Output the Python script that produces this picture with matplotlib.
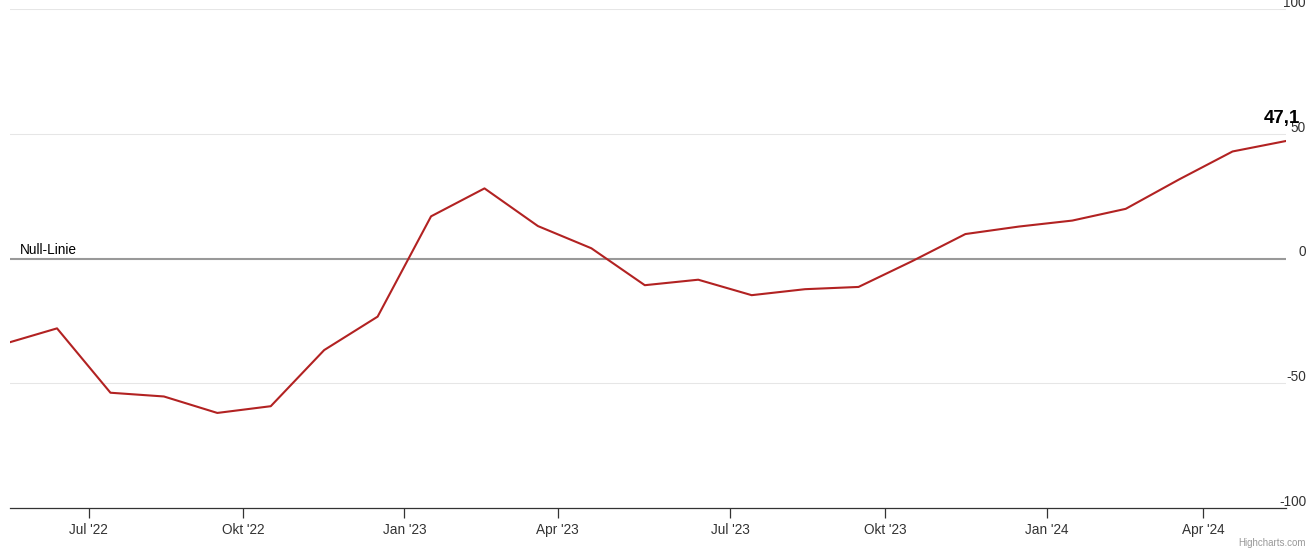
import datetime as dt
import numpy as np
import matplotlib
matplotlib.use("Agg")
import matplotlib.pyplot as plt
import matplotlib.dates as mdates
import matplotlib.transforms as mtransforms

plt.rcParams['font.family'] = ['Liberation Sans', 'DejaVu Sans']

# monthly survey values, May 2022 .. May 2024 (ordinal axis: points equally spaced)
dates = [dt.date(2022, 5, 17), dt.date(2022, 6, 12), dt.date(2022, 7, 14), dt.date(2022, 8, 17),
         dt.date(2022, 9, 16), dt.date(2022, 10, 17), dt.date(2022, 11, 17), dt.date(2022, 12, 16),
         dt.date(2023, 1, 17), dt.date(2023, 2, 17), dt.date(2023, 3, 22), dt.date(2023, 4, 18),
         dt.date(2023, 5, 16), dt.date(2023, 6, 12), dt.date(2023, 7, 14), dt.date(2023, 8, 16),
         dt.date(2023, 9, 15), dt.date(2023, 10, 17), dt.date(2023, 11, 15), dt.date(2023, 12, 15),
         dt.date(2024, 1, 16), dt.date(2024, 2, 16), dt.date(2024, 3, 20), dt.date(2024, 4, 16),
         dt.date(2024, 5, 14)]
values = [-34.3, -28.0, -53.8, -55.3, -61.9, -59.2, -36.7, -23.3,
          16.9, 28.1, 13.0, 4.1, -10.7, -8.5, -14.7, -12.3, -11.4, -1.1, 9.8, 12.8,
          15.2, 19.9, 31.7, 42.9, 47.1]

tick_dates = [dt.date(2022, 7, 1), dt.date(2022, 10, 1), dt.date(2023, 1, 1), dt.date(2023, 4, 1),
              dt.date(2023, 7, 1), dt.date(2023, 10, 1), dt.date(2024, 1, 1), dt.date(2024, 4, 1)]
tick_labels = ["Jul '22", "Okt '22", "Jan '23", "Apr '23", "Jul '23", "Okt '23", "Jan '24", "Apr '24"]
y_ticks = [-100, -50, 0, 50, 100]
y_labels = ["-100", "-50", "0", "50", "100"]
last_label = "47,1"

# ordinal positions
idx = np.arange(len(dates))
tick_pos = np.interp(mdates.date2num(tick_dates), mdates.date2num(dates), idx)

W, H = 1316, 551
fig = plt.figure(figsize=(W / 100, H / 100), dpi=100)
ax = fig.add_axes([10 / W, (H - 508) / H, 1276 / W, 499 / H])

for v in [-50, 50, 100]:
    ax.axhline(v, color='#e6e6e6', lw=0.75, zorder=1)
ax.axhline(0, color='#999999', lw=1.5, zorder=2)

ax.plot(idx, values, color='#b22222', lw=1.5, zorder=3, solid_joinstyle='round')

# the range starts a little after the first point, as in the original
ax.set_xlim(0.12, idx[-1])
ax.set_ylim(-100, 100)

for s in ['top', 'right', 'left']:
    ax.spines[s].set_visible(False)
ax.spines['bottom'].set_color('#333333')
ax.spines['bottom'].set_linewidth(0.9)

ax.set_xticks(tick_pos)
ax.set_xticklabels(tick_labels)
ax.tick_params(axis='x', length=7.2, width=0.9, color='#333333', pad=3.5,
               labelsize=9.8, labelcolor='#333333')
ax.set_yticks([])

# y labels on the right, sitting above the grid lines
ylab_tr = mtransforms.offset_copy(ax.get_yaxis_transform(), fig=fig, x=0, y=6, units='dots')
for v, lab in zip(y_ticks, y_labels):
    ax.text(1296 / 1276, v, lab, transform=ylab_tr, ha='right', va='center',
            fontsize=9.8, color='#333333', clip_on=False)

ax.text(10 / 1276, 0, 'Null-Linie',
        transform=mtransforms.offset_copy(ax.get_yaxis_transform(), fig=fig, x=0, y=8, units='dots'),
        ha='left', va='center', fontsize=9.8, color='#000000')

ax.annotate(last_label, xy=(idx[-1], values[-1]), xytext=(-4 * 0.72, 22.5 * 0.72),
            textcoords='offset points', ha='center', va='center',
            fontsize=13.5, fontweight='bold', color='#000000', annotation_clip=False)

fig.text(1306 / W, 1 - 543 / H, 'Highcharts.com', ha='right', va='center',
         fontsize=7, color='#999999')

fig.savefig('out.png', dpi=100)
